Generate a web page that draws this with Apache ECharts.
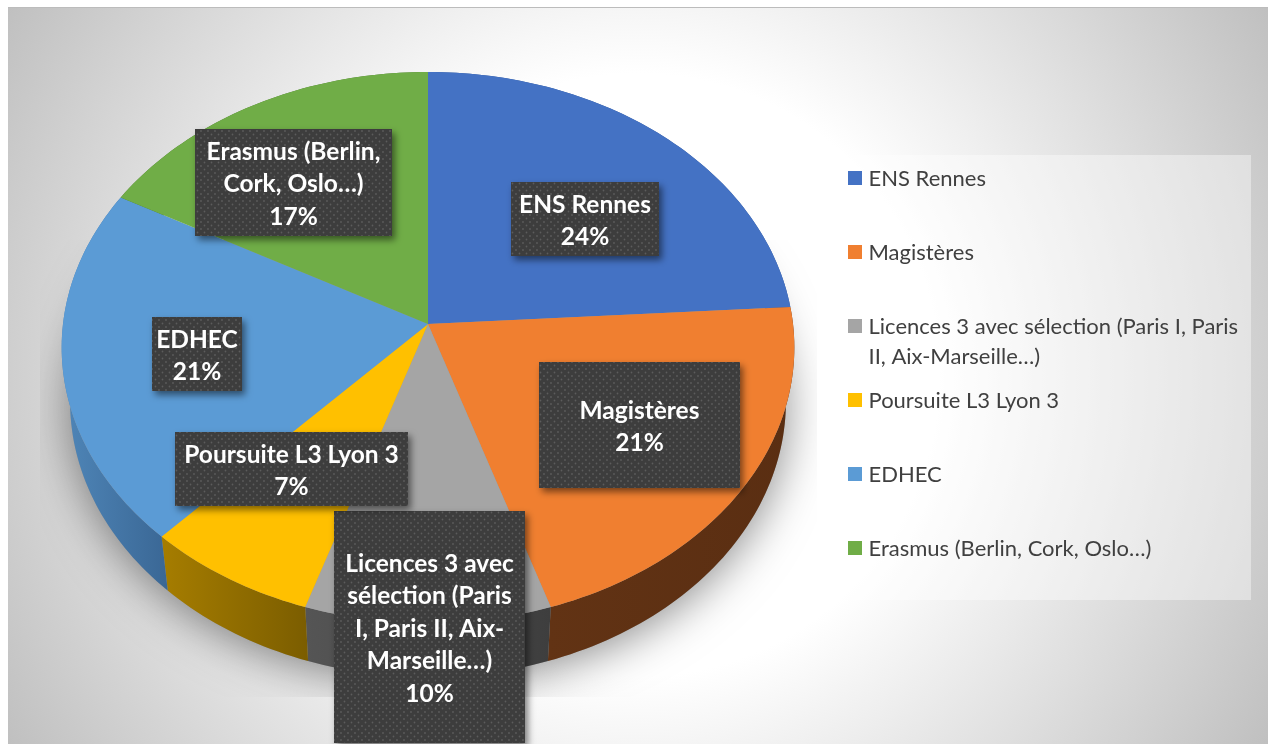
<!DOCTYPE html>
<html lang="fr">
<head>
    <meta charset="UTF-8">
    <title>Poursuites d'études</title>
    <script src="https://cdn.jsdelivr.net/npm/echarts@6/dist/echarts.min.js"></script>
    <style>
        html, body { margin: 0; padding: 0; background: #fff; }
        #chart { width: 1268px; height: 744px; }
    </style>
</head>
<body>
    <div id="chart"></div>
    <script>
        // data
        var categories = ['ENS Rennes', 'Magistères', 'Licences 3 avec sélection (Paris I, Paris II, Aix-Marseille…)', 'Poursuite L3 Lyon 3', 'EDHEC', 'Erasmus (Berlin, Cork, Oslo…)'];
        var values = [24, 21, 10, 7, 21, 17];
        // how each name wraps in its label and in the legend
        var labelLines = [
            ['ENS Rennes'],
            ['Magistères'],
            ['Licences 3 avec', 'sélection (Paris', 'I, Paris II, Aix-', 'Marseille…)'],
            ['Poursuite L3 Lyon 3'],
            ['EDHEC'],
            ['Erasmus (Berlin,', 'Cork, Oslo…)']
        ];
        var legendLines = [
            ['ENS Rennes'],
            ['Magistères'],
            ['Licences 3 avec sélection (Paris I, Paris', 'II, Aix-Marseille…)'],
            ['Poursuite L3 Lyon 3'],
            ['EDHEC'],
            ['Erasmus (Berlin, Cork, Oslo…)']
        ];

        var topColors = ['#4472c4', '#f07f30', '#a5a5a5', '#ffc000', '#5b9bd5', '#70ad47'];
        var sideColors = [
            ['#2f5597', '#2f5597'],
            ['#623314', '#5a2e12'],
            ['#555555', '#3e3e3e'],
            ['#a67d00', '#7b5d00'],
            ['#4f86b8', '#3a6795'],
            ['#4a7530', '#4a7530']
        ];
        // label boxes: left, top, right, bottom
        var labelBoxes = [
            [511, 182, 659, 256],
            [539, 362, 740, 488],
            [334, 511, 525, 743],
            [175, 432, 408, 506],
            [152, 317, 242, 391],
            [195, 129, 392, 236]
        ];

        var chart = echarts.init(document.getElementById('chart'));

        // the pie is a circle seen in perspective
        var cx = 428, cy = 324, rx = 365, ry = 273.5, persp = 0.0852;
        var depth = 54, baseScale = 0.977;

        function project(pct, bottom) {
            var a = pct / 100 * Math.PI * 2;
            var u = Math.sin(a), v = -Math.cos(a);
            var w = 1 - persp * v;
            var x = rx * u / w, y = ry * v / w;
            if (bottom) return [cx + x * baseScale, cy + y + depth];
            return [cx + x, cy + y];
        }

        function arc(from, to, bottom) {
            var pts = [];
            var n = Math.max(2, Math.ceil((to - from) * 3));
            for (var i = 0; i <= n; i++) {
                pts.push(project(from + (to - from) * i / n, bottom));
            }
            return pts;
        }

        var sliceData = [];
        var sum = 0;
        values.forEach(function (v, i) {
            sliceData.push([sum, sum + v, i]);
            sum += v;
        });

        function renderSide(params, api) {
            var from = api.value(0), to = api.value(1), i = api.value(2);
            var pts = arc(from, to, false).concat(arc(from, to, true).reverse());
            return {
                type: 'polygon',
                shape: { points: pts },
                style: {
                    fill: new echarts.graphic.LinearGradient(0, 0, 1, 0, [
                        { offset: 0, color: sideColors[i][0] },
                        { offset: 1, color: sideColors[i][1] }
                    ])
                }
            };
        }

        function renderTop(params, api) {
            var from = api.value(0), to = api.value(1), i = api.value(2);
            var pts = [[cx, cy]].concat(arc(from, to, false));
            return {
                type: 'polygon',
                shape: { points: pts },
                style: { fill: topColors[i] }
            };
        }

        function renderLabel(params, api) {
            var i = api.value(2);
            var b = labelBoxes[i];
            var text = labelLines[i].concat([values[i] + '%']).join('\n');
            return {
                type: 'group',
                children: [{
                    type: 'rect',
                    shape: { x: b[0], y: b[1], width: b[2] - b[0], height: b[3] - b[1] },
                    style: {
                        fill: { image: dots, repeat: 'repeat' },
                        shadowBlur: 7,
                        shadowOffsetX: 3,
                        shadowOffsetY: 4,
                        shadowColor: 'rgba(0,0,0,0.5)'
                    }
                }, {
                    type: 'text',
                    style: {
                        x: (b[0] + b[2]) / 2,
                        y: (b[1] + b[3]) / 2 + 2,
                        text: text,
                        align: 'center',
                        verticalAlign: 'middle',
                        font: 'bold 24.5px Lato',
                        lineHeight: 32.5,
                        fill: '#ffffff'
                    }
                }]
            };
        }

        // dotted fill of the label boxes
        var dots = document.createElement('canvas');
        dots.width = 7;
        dots.height = 7;
        var ctx = dots.getContext('2d');
        ctx.fillStyle = '#3d3d3d';
        ctx.fillRect(0, 0, 7, 7);
        ctx.fillStyle = 'rgba(255,255,255,0.16)';
        ctx.beginPath();
        ctx.arc(1.5, 1.5, 0.9, 0, Math.PI * 2);
        ctx.arc(5, 5, 0.9, 0, Math.PI * 2);
        ctx.fill();

        // legend
        var legendTop = 178, legendStep = 74;
        var legendElements = [{
            type: 'rect',
            shape: { x: 836, y: 155, width: 415, height: 445 },
            style: { fill: 'rgba(255,255,255,0.4)' }
        }];
        categories.forEach(function (name, i) {
            var y = legendTop + legendStep * i;
            legendElements.push({
                type: 'rect',
                shape: { x: 848, y: y - 7, width: 14, height: 14 },
                style: { fill: topColors[i] }
            });
            legendLines[i].forEach(function (line, k) {
                legendElements.push({
                    type: 'text',
                    style: {
                        x: 868.5,
                        y: y + 1 + k * 30,
                        text: line,
                        verticalAlign: 'middle',
                        font: '22px Lato',
                        fill: '#404040'
                    }
                });
            });
        });

        var option = {
            animation: false,
            graphic: {
                elements: [{
                    type: 'rect',
                    shape: { x: 8, y: 7, width: 1260, height: 737 },
                    style: {
                        fill: new echarts.graphic.RadialGradient(638, 375, 735, [
                            { offset: 0, color: '#ffffff' },
                            { offset: 0.41, color: '#ffffff' },
                            { offset: 1, color: '#bfbfbf' }
                        ], true)
                    }
                }, {
                    type: 'rect',
                    shape: { x: 8, y: 7, width: 1260, height: 1 },
                    style: { fill: '#bcbcbc' }
                }, {
                    type: 'group',
                    children: legendElements
                }]
            },
            series: [{
                // soft shadow under the pie, cut off by its own frame
                type: 'custom',
                coordinateSystem: 'none',
                silent: true,
                z: 1,
                data: [[0, 100, 0]],
                renderItem: function () {
                    return {
                        type: 'group',
                        clipPath: { type: 'rect', shape: { x: 40, y: 240, width: 777, height: 457 } },
                        children: [{
                            type: 'polygon',
                            shape: { points: arc(0, 100, true) },
                            style: {
                                fill: '#999999',
                                shadowBlur: 45,
                                shadowOffsetY: 6,
                                shadowColor: 'rgba(0,0,0,0.45)'
                            }
                        }]
                    };
                }
            }, {
                type: 'custom',
                coordinateSystem: 'none',
                silent: true,
                z: 2,
                data: sliceData,
                renderItem: renderSide
            }, {
                type: 'custom',
                coordinateSystem: 'none',
                silent: true,
                z: 3,
                data: sliceData,
                renderItem: renderTop
            }, {
                type: 'custom',
                coordinateSystem: 'none',
                silent: true,
                z: 4,
                data: sliceData,
                renderItem: renderLabel
            }]
        };
        chart.setOption(option);
    </script>
</body>
</html>
